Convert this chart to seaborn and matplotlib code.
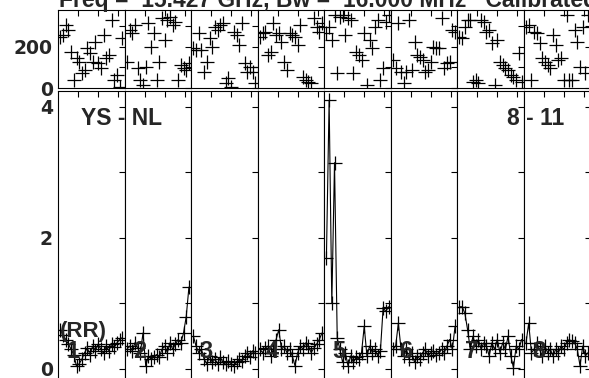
import pandas as pd
import seaborn as sns
import matplotlib.pyplot as plt

# time stamps inside each baseline panel (panel runs 0 .. 66.5)
times = [2, 4.7, 7.4, 10.1, 12.8, 15.5, 18.2, 20.9, 23.6, 26.3, 29, 31.7,
         34.4, 37.1, 39.8, 42.5, 45.2, 47.9, 50.6, 53.3, 56, 58.7, 61.4, 64.1]

panel_labels = ['1', '2', '3', '4', '5', '6', '7', '8']

# amplitudes (Jy) per panel
amp_1 = [0.60, 0.52, 0.45, 0.38, 0.30, 0.22, 0.04, 0.08, 0.15, 0.25, 0.32, 0.22,
         0.35, 0.28, 0.38, 0.30, 0.24, 0.35, 0.28, 0.38, 0.33, 0.40, 0.45, 0.48]
amp_2 = [0.30, 0.35, 0.28, 0.40, 0.32, 0.25, 0.55, 0.05, 0.20, 0.15, 0.18, 0.22,
         0.18, 0.30, 0.35, 0.25, 0.40, 0.30, 0.38, 0.45, 0.40, 0.55, 0.80, 1.25]
amp_3 = [0.50, 0.35, 0.25, 0.30, 0.15, 0.08, 0.20, 0.10, 0.15, 0.08, 0.18, 0.10,
         0.07, 0.12, 0.08, 0.05, 0.10, 0.15, 0.12, 0.20, 0.25, 0.18, 0.28, 0.25]
amp_4 = [0.30, 0.25, 0.32, 0.35, 0.20, 0.30, 0.45, 0.60, 0.30, 0.35, 0.25, 0.30,
         0.20, 0.05, 0.25, 0.35, 0.30, 0.40, 0.35, 0.25, 0.32, 0.38, 0.45, 0.55]
amp_5 = [1.70, 4.10, 1.00, 3.15, 0.47, 0.30, 0.10, 0.25, 0.05, 0.20, 0.10, 0.18,
         0.15, 0.25, 0.65, 0.20, 0.35, 0.25, 0.30, 0.20, 0.28, 0.93, 0.88, 0.95]
amp_6 = [0.30, 0.35, 0.70, 0.30, 0.20, 0.30, 0.15, 0.25, 0.10, 0.20, 0.15, 0.25,
         0.30, 0.20, 0.25, 0.28, 0.22, 0.25, 0.30, 0.25, 0.35, 0.45, 0.30, 0.65]
amp_7 = [0.95, 0.95, 0.85, 0.60, 0.30, 0.50, 0.35, 0.45, 0.30, 0.40, 0.35, 0.20,
         0.40, 0.30, 0.45, 0.25, 0.40, 0.30, 0.50, 0.20, 0.02, 0.35, 0.30, 0.45]
amp_8 = [0.40, 0.70, 0.25, 0.30, 0.40, 0.30, 0.20, 0.35, 0.25, 0.30, 0.20, 0.30,
         0.25, 0.35, 0.30, 0.40, 0.45, 0.42, 0.40, 0.30, 0.05, 0.35, 0.20, 0.25]

# phases (degrees) per panel
phase_1 = [248, 256, 305, 281, 176, 39, 144, 127, 71, 87, 192, 168,
           127, 224, 119, 95, 256, 144, 160, 329, 39, 63, 6, 240]
phase_2 = [127, 281, 265, 305, 95, 39, 15, 103, 313, 200, 265, 39,
           127, 337, 232, 329, 345, 305, 321, 39, 111, 95, 87, 119]
phase_3 = [192, 184, 265, 184, 79, 127, 240, 200, 297, 281, 305, 313,
           23, 47, 6, 273, 256, 208, 313, 119, 79, 103, 79, 23]
phase_4 = [248, 265, 273, 160, 176, 313, 256, 265, 224, 127, 87, 265,
           256, 248, 208, 305, 55, 39, 31, 23, 337, 297, 273, 313]
phase_5 = [265, 297, 232, 353, 71, 345, 353, 256, 337, 329, 71, 176,
           160, 136, 265, 15, 232, 192, 297, 329, 39, 95, 321, 353]
phase_6 = [136, 95, 313, 79, 23, 79, 329, 87, 224, 160, 152, 136,
           79, 87, 127, 200, 192, 192, 337, 95, 119, 127, 281, 273]
phase_7 = [248, 240, 297, 329, 329, 31, 39, 23, 329, 321, 273, 281,
           216, 15, 232, 127, 111, 95, 87, 63, 55, 39, 168, 31]
phase_8 = [297, 305, 39, 273, 265, 216, 144, 127, 111, 95, 256, 208,
           136, 144, 39, 353, 39, 39, 281, 224, 103, 297, 71, 353]

amps = [amp_1, amp_2, amp_3, amp_4, amp_5, amp_6, amp_7, amp_8]
phases = [phase_1, phase_2, phase_3, phase_4, phase_5, phase_6, phase_7, phase_8]

W, H = 589, 378
LEFT = 58.3
PANEL_W = 66.53


def px_box(x0, y_top, w, y_bot):
    return [x0 / W, 1 - y_bot / H, w / W, (y_bot - y_top) / H]


def fig_text(x, y, s, size, **kw):
    fig.text(x / W, 1 - y / H, s, fontsize=size, fontweight='bold',
             va='baseline', ha='left', **kw)


sns.set_style('white')
plt.rcParams['font.family'] = ['Liberation Sans', 'DejaVu Sans']
plt.rcParams['font.weight'] = 'bold'

fig = plt.figure(figsize=(W / 100, H / 100), dpi=100)

for i in range(8):
    x0 = LEFT + i * PANEL_W
    ax_p = fig.add_axes(px_box(x0, 10, PANEL_W, 88))
    ax_a = fig.add_axes(px_box(x0, 91, PANEL_W, 380))
    df = pd.DataFrame({'time': times, 'amp': amps[i], 'phase': phases[i]})

    sns.scatterplot(data=df, x='time', y='phase', ax=ax_p, marker='+',
                    color='k', s=115, linewidth=0.9, legend=False)
    sns.lineplot(data=df, x='time', y='amp', ax=ax_a, color='k',
                 linewidth=0.8, marker='+', markersize=10,
                 markeredgewidth=0.9, markeredgecolor='k')

    ax_p.set_ylim(0, 378)
    ax_p.set_yticks([0, 100, 200, 300])
    ax_a.set_ylim(-0.168, 4.244)
    ax_a.set_yticks([0, 1, 2, 3, 4])

    for ax in (ax_p, ax_a):
        ax.set_xlim(0, PANEL_W)
        ax.set_xticks([20, 40, 60])
        ax.set_xlabel('')
        ax.set_ylabel('')
        ax.tick_params(direction='in', length=4, width=0.8, color='k',
                       top=True, right=True, labelbottom=False,
                       labelleft=(i == 0), pad=4)
        for sp in ax.spines.values():
            sp.set_color('k')
            sp.set_linewidth(0.8)
    if i == 0:
        tick_font = dict(fontweight='bold', fontsize=13.5, family='DejaVu Sans')
        ax_p.set_yticklabels(['0', '', '200', ''], **tick_font)
        ax_a.set_yticklabels(['0', '', '2', '', '4'], **tick_font)

    fig_text(x0 + 8, 358, panel_labels[i], 17)

fig_text(59, 7, 'Freq =  15.427 GHz, Bw =  16.000 MHz   Calibrated', 16.5)
fig_text(81, 125, 'YS - NL', 16.5)
fig_text(507, 125, '8 - 11', 16.5)
fig_text(60, 337, '(RR)', 16)

fig.savefig('out.png', dpi=100)
